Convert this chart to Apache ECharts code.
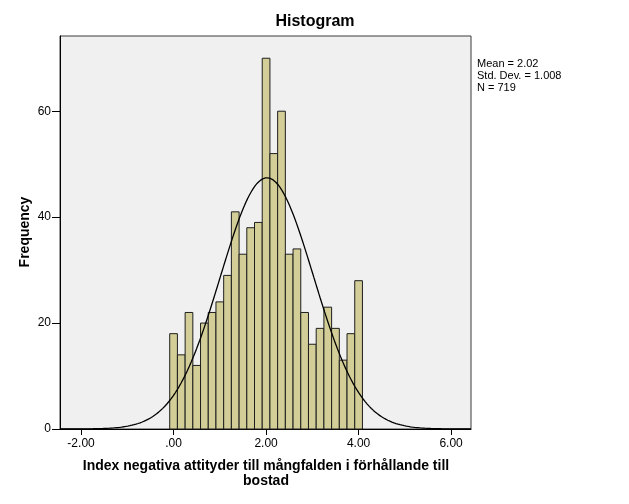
<!DOCTYPE html>
<html>
<head>
<meta charset="utf-8">
<script src="https://cdn.jsdelivr.net/npm/echarts@6/dist/echarts.min.js"></script>
<style>
html,body{margin:0;padding:0;background:#fff;}
#chart{width:629px;height:504px;}
</style>
</head>
<body>
<div id="chart"></div>
<script>
// ---- data ----
var binCenters = [0, 1/6, 2/6, 3/6, 4/6, 5/6, 1, 7/6, 8/6, 9/6, 10/6, 11/6, 2, 13/6, 14/6, 15/6, 16/6, 17/6, 3, 19/6, 20/6, 21/6, 22/6, 23/6, 4];
var frequencies = [18, 14, 22, 12, 20, 22, 24, 29, 41, 33, 38, 39, 70, 52, 60, 33, 34, 22, 16, 19, 23, 19, 13, 18, 28];
var binWidth = 1/6;
var xTickValues = [-2, 0, 2, 4, 6];
var xTickLabels = ['-2.00', '.00', '2.00', '4.00', '6.00'];
var yTickValues = [0, 20, 40, 60];
var statMean = 2.02;
var statSD = 1.008;
var statN = 719;
var statLines = ['Mean = 2.02', 'Std. Dev. = 1.008', 'N = 719'];
var chartTitle = 'Histogram';
var xTitle = 'Index negativa attityder till mångfalden i förhållande till\nbostad';
var yTitle = 'Frequency';

// ---- axes extents ----
var xMin = -2.455, xMax = 6.43, yMin = 0, yMax = 74.2;

// fitted normal curve (from mean, sd, N and bin width)
var curve = [];
for (var i = 0; i <= 400; i++) {
  var x = xMin + (xMax - xMin) * i / 400;
  var z = (x - statMean) / statSD;
  curve.push([x, statN * binWidth / (statSD * Math.sqrt(2 * Math.PI)) * Math.exp(-0.5 * z * z)]);
}

var barData = binCenters.map(function (c, i) { return [c, frequencies[i]]; });

var chart = echarts.init(document.getElementById('chart'), null, {renderer: 'canvas'});
var font = 'Liberation Sans, Arial, sans-serif';

chart.setOption({
  animation: false,
  backgroundColor: '#ffffff',
  grid: {
    left: 60, right: 158, top: 36, bottom: 75,
    show: true, backgroundColor: '#f0f0f0', borderColor: '#3a3a3a', borderWidth: 1
  },
  xAxis: {
    type: 'value', min: xMin, max: xMax,
    splitLine: {show: false},
    axisLine: {show: true, onZero: false, lineStyle: {color: '#000', width: 1}},
    axisTick: {show: true, length: 6, lineStyle: {color: '#000'}, customValues: xTickValues},
    axisLabel: {
      show: true, color: '#000', fontFamily: font, fontSize: 12, margin: 9,
      customValues: xTickValues,
      formatter: function (v) {
        var k = xTickValues.indexOf(Math.round(v));
        return k >= 0 ? xTickLabels[k] : '';
      }
    }
  },
  yAxis: {
    type: 'value', min: yMin, max: yMax,
    splitLine: {show: false},
    axisLine: {show: true, onZero: false, lineStyle: {color: '#000', width: 1}},
    axisTick: {show: true, length: 8, lineStyle: {color: '#000'}, customValues: yTickValues},
    axisLabel: {show: true, color: '#000', fontFamily: font, fontSize: 12, margin: 9, customValues: yTickValues}
  },
  series: [
    {
      type: 'custom',
      data: barData,
      renderItem: function (params, api) {
        var c = api.value(0), f = api.value(1);
        var p0 = api.coord([c - binWidth / 2, f]);
        var p1 = api.coord([c + binWidth / 2, 0]);
        return {
          type: 'rect',
          shape: {x: p0[0], y: p0[1], width: p1[0] - p0[0], height: p1[1] - p0[1]},
          style: {fill: '#d3ce97', stroke: '#1e1e1e', lineWidth: 1}
        };
      },
      z: 2
    },
    {
      type: 'line',
      data: curve,
      showSymbol: false,
      smooth: false,
      lineStyle: {color: '#000', width: 1.3},
      z: 3
    }
  ],
  graphic: [
    {
      type: 'text', x: 315, y: 22,
      style: {text: chartTitle, font: 'bold 16px ' + font, fill: '#000', align: 'center', verticalAlign: 'middle'}
    },
    {
      type: 'text', x: 266, y: 459,
      style: {text: xTitle, font: 'bold 14px ' + font, fill: '#000', align: 'center', verticalAlign: 'top', lineHeight: 15}
    },
    {
      type: 'text', x: 25, y: 232, rotation: Math.PI / 2,
      style: {text: yTitle, font: 'bold 14px ' + font, fill: '#000', align: 'center', verticalAlign: 'middle'}
    },
    {
      type: 'text', x: 477, y: 58,
      style: {text: statLines.join('\n'), font: '11px ' + font, fill: '#000', align: 'left', verticalAlign: 'top', lineHeight: 12}
    }
  ]
});
</script>
</body>
</html>
